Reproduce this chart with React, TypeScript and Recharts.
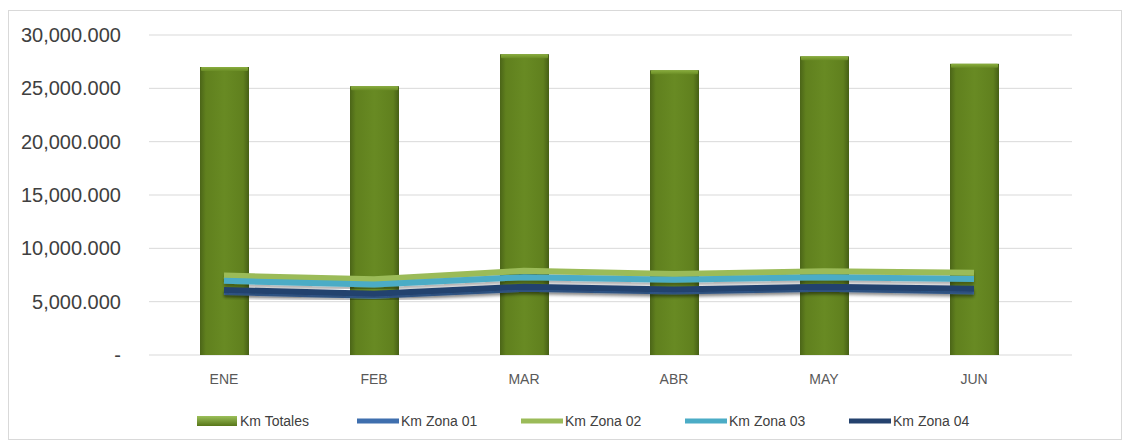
import React from "react";
import {
  ComposedChart,
  Bar,
  Line,
  XAxis,
  YAxis,
  CartesianGrid,
} from "recharts";

// months
const months = ["ENE", "FEB", "MAR", "ABR", "MAY", "JUN"];

// km values
const kmTotales = [27000000, 25200000, 28200000, 26700000, 28000000, 27300000];
const kmZona01 = [5900000, 5550000, 6200000, 5950000, 6200000, 5950000];
const kmZona02 = [7450000, 7100000, 7900000, 7600000, 7850000, 7720000];
const kmZona03 = [6950000, 6600000, 7300000, 7050000, 7300000, 7120000];
const kmZona04 = [6100000, 5750000, 6400000, 6150000, 6400000, 6200000];

const yTicks = [0, 5000000, 10000000, 15000000, 20000000, 25000000, 30000000];

const lineSeries = [
  { key: "zona01", name: "Km Zona 01", color: "#3f6fae" },
  { key: "zona02", name: "Km Zona 02", color: "#9bbb59" },
  { key: "zona03", name: "Km Zona 03", color: "#4bacc6" },
  { key: "zona04", name: "Km Zona 04", color: "#24426e" },
];

const data = months.map((m, i) => ({
  month: m,
  totales: kmTotales[i],
  zona01: kmZona01[i],
  zona02: kmZona02[i],
  zona03: kmZona03[i],
  zona04: kmZona04[i],
}));

const formatKm = (v: number) => {
  if (v === 0) return "-";
  const thousands = Math.floor(v / 1000).toLocaleString("en-US");
  return `${thousands}.${String(v % 1000).padStart(3, "0")}`;
};

// bar with darker edges and a light top cap like the excel bevel
const BevelBar = (props: any) => {
  const { x, y, width, height } = props;
  if (!height || height <= 0) return null;
  return (
    <g>
      <rect x={x} y={y} width={width} height={height} fill="url(#barGrad)" />
      <rect
        x={x + 1}
        y={y}
        width={width - 2}
        height={4}
        fill="url(#capGrad)"
        rx={1}
      />
    </g>
  );
};

export default function App() {
  return (
    <div
      style={{
        position: "absolute",
        left: 8,
        top: 10,
        width: 1112,
        height: 428,
        border: "1px solid #d9d9d9",
        background: "#fff",
        fontFamily: "'Liberation Sans', Arial, sans-serif",
      }}
    >
      <ComposedChart
        width={1112}
        height={428}
        data={data}
        margin={{ top: 24, right: 49, left: 0, bottom: 54 }}
      >
        <defs>
          <linearGradient id="barGrad" x1="0" y1="0" x2="1" y2="0">
            <stop offset="0%" stopColor="#4b6518" />
            <stop offset="12%" stopColor="#60801e" />
            <stop offset="50%" stopColor="#688a23" />
            <stop offset="88%" stopColor="#60801e" />
            <stop offset="100%" stopColor="#465f16" />
          </linearGradient>
          <linearGradient id="capGrad" x1="0" y1="0" x2="0" y2="1">
            <stop offset="0%" stopColor="#8aae3e" />
            <stop offset="100%" stopColor="#6a8c25" />
          </linearGradient>
          <linearGradient id="legendBar" x1="0" y1="0" x2="0" y2="1">
            <stop offset="0%" stopColor="#9cc05a" />
            <stop offset="100%" stopColor="#577619" />
          </linearGradient>
          <filter id="lineShadow" x="-5%" y="-50%" width="110%" height="200%">
            <feDropShadow dx="0" dy="3" stdDeviation="1.5" floodColor="#000" floodOpacity="0.3" />
          </filter>
        </defs>
        <CartesianGrid horizontal vertical={false} stroke="#d9d9d9" />
        <XAxis
          dataKey="month"
          axisLine={false}
          tickLine={false}
          tickSize={0}
          tickMargin={19}
          height={30}
          padding={{ left: 0, right: 23 }}
          tick={{ fill: "#595959", fontSize: 14 }}
        />
        <YAxis
          domain={[0, 30000000]}
          ticks={yTicks}
          interval={0}
          width={140}
          axisLine={false}
          tickLine={false}
          tickSize={0}
          tickMargin={28}
          tickFormatter={formatKm}
          tick={{ fill: "#404040", fontSize: 20 }}
        />
        <Bar
          dataKey="totales"
          name="Km Totales"
          barSize={49}
          shape={<BevelBar />}
          isAnimationActive={false}
        />
        {lineSeries.map((s) => (
          <Line
            key={s.key}
            type="linear"
            dataKey={s.key}
            name={s.name}
            stroke={s.color}
            strokeWidth={6}
            dot={false}
            activeDot={false}
            filter="url(#lineShadow)"
            isAnimationActive={false}
          />
        ))}
      </ComposedChart>

      <div
        style={{
          position: "absolute",
          left: 188,
          top: 402,
          display: "flex",
          alignItems: "center",
          fontSize: 14,
          color: "#404040",
          whiteSpace: "nowrap",
        }}
      >
        <div style={{ display: "flex", alignItems: "center", width: 160 }}>
          <svg width={40} height={10} style={{ marginRight: 3 }}>
            <rect x={0} y={0} width={40} height={10} fill="url(#legendBar)" />
          </svg>
          <span>Km Totales</span>
        </div>
        {lineSeries.map((s) => (
          <div
            key={s.key}
            style={{ display: "flex", alignItems: "center", width: 164 }}
          >
            <svg width={42} height={10} style={{ marginRight: 2 }}>
              <line x1={0} y1={5} x2={42} y2={5} stroke={s.color} strokeWidth={5} />
            </svg>
            <span>{s.name}</span>
          </div>
        ))}
      </div>
    </div>
  );
}
